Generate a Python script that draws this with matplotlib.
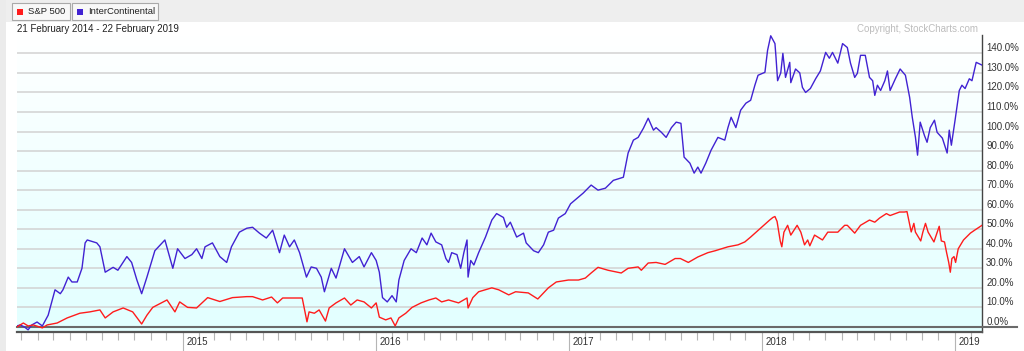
import matplotlib
matplotlib.use('Agg')
import matplotlib.pyplot as plt
import matplotlib.dates as mdates
import matplotlib.transforms as mtransforms
from matplotlib.patches import Rectangle
import numpy as np
import pandas as pd

plt.rcParams['font.family'] = ['Liberation Sans', 'DejaVu Sans']

series_names = ['S&P 500', 'InterContinental']
series_colors = ['#ff1c1c', '#4122d2']
date_range_text = '21 February 2014 - 22 February 2019'
copyright_text = 'Copyright, StockCharts.com'
y_ticks = list(range(0, 150, 10))
year_labels = [2015, 2016, 2017, 2018, 2019]

sp_dates = [
    '2014-02-21', '2014-03-05', '2014-03-14', '2014-03-24', '2014-04-10', '2014-04-19', '2014-05-08',
    '2014-05-27', '2014-06-20', '2014-07-09', '2014-07-28', '2014-08-07', '2014-08-22', '2014-09-10',
    '2014-09-28', '2014-10-15', '2014-10-25', '2014-11-05', '2014-12-02', '2014-12-17', '2014-12-26',
    '2015-01-10', '2015-01-27', '2015-02-17', '2015-03-12', '2015-04-05', '2015-05-02', '2015-05-13',
    '2015-06-01', '2015-06-18', '2015-06-29', '2015-07-09', '2015-07-26', '2015-08-15', '2015-08-24',
    '2015-08-28', '2015-09-07', '2015-09-16', '2015-09-28', '2015-10-05', '2015-10-18', '2015-11-03',
    '2015-11-15', '2015-11-27', '2015-12-10', '2015-12-24', '2016-01-02', '2016-01-08', '2016-01-20',
    '2016-01-30', '2016-02-07', '2016-02-14', '2016-02-27', '2016-03-10', '2016-03-27', '2016-04-11',
    '2016-04-24', '2016-05-05', '2016-05-18', '2016-06-06', '2016-06-22', '2016-06-24', '2016-07-03',
    '2016-07-14', '2016-08-08', '2016-08-21', '2016-09-09', '2016-09-22', '2016-10-16', '2016-11-03',
    '2016-11-23', '2016-12-08', '2016-12-31', '2017-01-19', '2017-02-01', '2017-02-12', '2017-02-25',
    '2017-03-16', '2017-04-10', '2017-04-23', '2017-05-12', '2017-05-18', '2017-05-31', '2017-06-15',
    '2017-07-02', '2017-07-21', '2017-07-31', '2017-08-15', '2017-09-02', '2017-09-21', '2017-10-05',
    '2017-10-29', '2017-11-17', '2017-11-30', '2017-12-11', '2017-12-30', '2018-01-16', '2018-01-22',
    '2018-01-26', '2018-01-30', '2018-02-05', '2018-02-08', '2018-02-12', '2018-02-19', '2018-02-25',
    '2018-03-09', '2018-03-16', '2018-03-23', '2018-03-29', '2018-04-02', '2018-04-11', '2018-04-26',
    '2018-05-06', '2018-05-25', '2018-06-07', '2018-06-12', '2018-06-26', '2018-07-07', '2018-07-24',
    '2018-08-03', '2018-08-12', '2018-08-25', '2018-09-01', '2018-09-19', '2018-09-28', '2018-10-03',
    '2018-10-11', '2018-10-16', '2018-10-19', '2018-10-29', '2018-11-02', '2018-11-07', '2018-11-12',
    '2018-11-23', '2018-12-03', '2018-12-07', '2018-12-13', '2018-12-17', '2018-12-21', '2018-12-24',
    '2018-12-27', '2018-12-31', '2019-01-03', '2019-01-08', '2019-01-18', '2019-01-31', '2019-02-08',
    '2019-02-22',
]
sp_values = [
    0.0, 2.0, 0.5, 1.0, -0.5, 1.0, 2.0,
    4.6, 7.0, 7.7, 8.7, 4.6, 7.7, 9.7,
    7.7, 1.5, 6.0, 10.0, 13.8, 7.7, 12.8,
    10.0, 9.7, 15.0, 13.0, 15.0, 15.5, 15.5,
    13.8, 15.3, 12.3, 14.8, 14.8, 14.8, 2.6,
    7.7, 7.0, 8.7, 3.0, 9.7, 12.3, 14.8,
    11.2, 13.8, 12.8, 9.7, 12.3, 5.0, 3.6,
    4.6, 0.5, 4.6, 7.0, 10.0, 12.3, 13.8,
    14.8, 12.8, 13.8, 12.3, 14.8, 9.7, 15.0,
    18.0, 20.0, 19.0, 16.4, 18.0, 17.4, 14.3,
    20.0, 23.0, 24.0, 24.0, 25.0, 27.6, 30.5,
    29.0, 27.6, 30.0, 30.7, 29.0, 32.7, 33.0,
    32.0, 35.0, 35.0, 33.0, 35.8, 38.0, 39.0,
    41.0, 42.0, 43.5, 46.0, 50.6, 54.7, 56.0,
    56.5, 54.0, 44.0, 41.0, 48.5, 52.0, 47.0,
    52.0, 48.5, 42.0, 44.5, 41.5, 47.0, 44.5,
    48.5, 48.5, 52.0, 52.0, 48.0, 52.0, 54.7,
    53.6, 55.7, 58.0, 57.0, 58.8, 58.8, 59.0,
    48.6, 53.0, 48.5, 44.0, 48.5, 53.0, 48.5,
    43.5, 51.5, 44.0, 43.5, 38.0, 33.0, 28.0,
    35.0, 36.0, 33.0, 40.0, 44.5, 48.0, 49.5,
    52.0,
]

ic_dates = [
    '2014-02-21', '2014-02-27', '2014-03-07', '2014-03-14', '2014-03-21', '2014-03-31', '2014-04-10',
    '2014-04-21', '2014-04-30', '2014-05-04', '2014-05-14', '2014-05-19', '2014-05-29', '2014-06-05',
    '2014-06-15', '2014-06-24', '2014-06-30', '2014-07-04', '2014-07-22', '2014-07-28', '2014-08-07',
    '2014-08-22', '2014-08-31', '2014-09-17', '2014-09-26', '2014-10-06', '2014-10-15', '2014-10-25',
    '2014-11-09', '2014-11-28', '2014-12-13', '2014-12-22', '2015-01-05', '2015-01-18', '2015-01-27',
    '2015-02-06', '2015-02-12', '2015-02-26', '2015-03-12', '2015-03-25', '2015-04-03', '2015-04-18',
    '2015-05-02', '2015-05-13', '2015-05-26', '2015-06-08', '2015-06-20', '2015-07-03', '2015-07-12',
    '2015-07-22', '2015-07-31', '2015-08-10', '2015-08-23', '2015-09-01', '2015-09-11', '2015-09-20',
    '2015-09-26', '2015-10-09', '2015-10-18', '2015-11-03', '2015-11-18', '2015-12-01', '2015-12-10',
    '2015-12-24', '2016-01-02', '2016-01-08', '2016-01-14', '2016-01-23', '2016-02-01', '2016-02-09',
    '2016-02-14', '2016-02-24', '2016-03-08', '2016-03-18', '2016-03-29', '2016-04-07', '2016-04-15',
    '2016-04-24', '2016-05-05', '2016-05-13', '2016-05-18', '2016-05-24', '2016-06-03', '2016-06-10',
    '2016-06-16', '2016-06-22', '2016-06-24', '2016-06-29', '2016-07-05', '2016-07-14', '2016-07-27',
    '2016-08-08', '2016-08-17', '2016-08-30', '2016-09-05', '2016-09-12', '2016-09-24', '2016-10-07',
    '2016-10-12', '2016-10-26', '2016-11-04', '2016-11-14', '2016-11-23', '2016-12-03', '2016-12-12',
    '2016-12-25', '2017-01-04', '2017-01-19', '2017-01-28', '2017-02-12', '2017-02-25', '2017-03-11',
    '2017-03-26', '2017-04-14', '2017-04-23', '2017-05-03', '2017-05-12', '2017-05-22', '2017-05-31',
    '2017-06-10', '2017-06-15', '2017-06-25', '2017-07-04', '2017-07-14', '2017-07-23', '2017-08-01',
    '2017-08-07', '2017-08-18', '2017-08-26', '2017-09-02', '2017-09-08', '2017-09-17', '2017-09-27',
    '2017-10-10', '2017-10-23', '2017-10-29', '2017-11-04', '2017-11-13', '2017-11-22', '2017-12-02',
    '2017-12-11', '2017-12-19', '2017-12-25', '2018-01-07', '2018-01-12', '2018-01-18', '2018-01-26',
    '2018-01-28', '2018-01-31', '2018-02-06', '2018-02-10', '2018-02-15', '2018-02-23', '2018-02-25',
    '2018-03-06', '2018-03-14', '2018-03-19', '2018-03-25', '2018-04-03', '2018-04-13', '2018-04-22',
    '2018-05-02', '2018-05-09', '2018-05-15', '2018-05-25', '2018-06-03', '2018-06-12', '2018-06-18',
    '2018-06-26', '2018-07-01', '2018-07-07', '2018-07-16', '2018-07-24', '2018-07-30', '2018-08-03',
    '2018-08-08', '2018-08-14', '2018-08-22', '2018-08-27', '2018-09-01', '2018-09-11', '2018-09-20',
    '2018-09-30', '2018-10-08', '2018-10-13', '2018-10-19', '2018-10-23', '2018-10-28', '2018-11-05',
    '2018-11-10', '2018-11-16', '2018-11-24', '2018-11-29', '2018-12-09', '2018-12-18', '2018-12-22',
    '2018-12-26', '2019-01-02', '2019-01-10', '2019-01-15', '2019-01-21', '2019-01-29', '2019-02-03',
    '2019-02-11', '2019-02-22',
]
ic_values = [
    0.5, 1.0, 0.0, -1.5, 1.0, 2.5, 0.5,
    6.0, 15.0, 19.0, 17.0, 19.0, 25.5, 23.0,
    23.0, 30.0, 43.0, 44.5, 43.0, 41.0, 28.0,
    30.5, 29.0, 36.0, 33.0, 24.0, 17.0, 25.5,
    39.0, 44.5, 30.0, 40.0, 35.0, 37.0, 40.0,
    35.0, 41.0, 43.0, 36.0, 33.0, 41.0, 48.5,
    50.5, 51.0, 48.0, 45.5, 49.5, 38.0, 47.0,
    41.0, 44.5, 38.0, 25.5, 30.7, 30.0, 25.5,
    18.0, 30.0, 25.0, 40.0, 33.0, 36.0, 30.7,
    38.0, 34.0, 28.0, 15.0, 12.8, 16.0, 12.8,
    24.0, 34.0, 40.0, 38.0, 45.5, 42.0, 48.0,
    43.5, 42.0, 35.0, 33.0, 38.0, 37.0, 30.0,
    38.0, 44.5, 25.5, 34.0, 31.7, 38.0, 46.0,
    54.7, 58.0, 56.0, 51.0, 53.6, 46.0, 48.0,
    43.0, 39.0, 38.0, 42.0, 48.5, 49.5, 55.7,
    58.0, 63.0, 66.4, 68.5, 72.6, 70.0, 71.0,
    75.0, 76.6, 89.0, 95.6, 97.0, 101.7, 106.8,
    100.7, 102.0, 99.6, 97.0, 102.0, 104.8, 104.2,
    86.9, 83.8, 78.7, 81.8, 78.7, 83.8, 90.4,
    97.0, 95.6, 102.0, 107.3, 102.0, 110.9, 114.5,
    116.0, 123.7, 128.8, 130.3, 141.5, 149.0, 145.0,
    138.0, 126.0, 130.0, 140.0, 127.7, 135.4, 125.0,
    132.0, 130.0, 122.6, 120.0, 122.0, 127.0, 131.0,
    140.5, 137.5, 140.5, 135.0, 145.0, 143.0, 135.0,
    127.7, 129.8, 139.0, 139.0, 127.7, 126.0, 118.5,
    123.7, 121.0, 126.0, 131.0, 121.0, 127.0, 132.0,
    128.8, 117.5, 107.3, 97.0, 87.9, 104.8, 98.0,
    94.5, 102.0, 105.8, 99.6, 96.6, 89.0, 100.7,
    93.0, 105.8, 121.0, 123.7, 122.0, 127.0, 126.0,
    135.4, 134.0,
]

W, H = 1024, 351
fig = plt.figure(figsize=(W / 100, H / 100), dpi=100)
fig.patch.set_facecolor('white')

# plot-area rectangle in pixels
px_left, px_right, px_top, px_bottom = 17, 982, 35, 332
rect = [px_left / W, (H - px_bottom) / H, (px_right - px_left) / W, (px_bottom - px_top) / H]

# gradient background
bg = fig.add_axes(rect, zorder=0)
grad = np.linspace(0, 1, 256)[:, None]
top_c = np.array([1.0, 1.0, 1.0])
bot_c = np.array([0.886, 1.0, 1.0])
img = top_c[None, None, :] * (1 - grad[:, :, None]) + bot_c[None, None, :] * grad[:, :, None]
bg.imshow(img, aspect='auto', extent=[0, 1, 0, 1])
bg.axis('off')

ax = fig.add_axes(rect, zorder=1)
ax.patch.set_alpha(0)

sp_x = pd.to_datetime(sp_dates)
ic_x = pd.to_datetime(ic_dates)

for v in y_ticks[1:]:
    ax.axhline(v, color='#d2d2d2', lw=1.1, zorder=1)
ax.axhline(0, xmin=0, xmax=(1017 - px_left) / (px_right - px_left), color='#6a6a6a', lw=1.5,
           clip_on=False, zorder=3)

ax.plot(ic_x, ic_values, color=series_colors[1], lw=1.0, zorder=4)
ax.plot(sp_x, sp_values, color=series_colors[0], lw=1.0, zorder=5)

x0 = pd.Timestamp('2014-02-21')
x1 = pd.Timestamp('2019-02-22')
ax.set_xlim(x0, x1)
ax.set_ylim(-2.6, 149.4)

# spines
for s in ['top', 'left']:
    ax.spines[s].set_visible(False)
ax.spines['right'].set_color('#444444')
ax.spines['right'].set_linewidth(1.0)
ax.spines['bottom'].set_color('#555555')
ax.spines['bottom'].set_linewidth(1.6)

# y axis on the right
ax.yaxis.tick_right()
ax.set_yticks(y_ticks)
ax.set_yticklabels([f'{v:.1f}%' for v in y_ticks])
ax.tick_params(axis='y', length=0, pad=3, labelsize=7, labelcolor='#333333')
for lbl in ax.get_yticklabels():
    lbl.set_va('bottom')

# x axis ticks
ax.xaxis.set_major_locator(mdates.YearLocator())
ax.xaxis.set_minor_locator(mdates.MonthLocator())
ax.tick_params(axis='x', which='major', length=14, width=0.8, color='#b5b5b5', labelbottom=False)
ax.tick_params(axis='x', which='minor', length=6, width=0.8, color='#b5b5b5')
lab_tr = mtransforms.offset_copy(ax.get_xaxis_transform(), fig=fig, x=4, y=-10, units='dots')
for yr in year_labels:
    ax.text(mdates.date2num(pd.Timestamp(f'{yr}-01-01')), 0, str(yr), transform=lab_tr,
            ha='left', va='center', fontsize=7, color='#333333', clip_on=False)

# header overlay
hdr = fig.add_axes([0, 0, 1, 1], zorder=2)
hdr.set_xlim(0, W)
hdr.set_ylim(H, 0)
hdr.axis('off')
hdr.add_patch(Rectangle((0, 0), W, 22, facecolor='#eeeeee', edgecolor='none'))
hdr.add_patch(Rectangle((0, 0), 6, H, facecolor='#ebebeb', edgecolor='none'))
buttons = [(12, 58), (72, 86)]
for (bx, bw), name, col in zip(buttons, series_names, series_colors):
    hdr.add_patch(Rectangle((bx, 3), bw, 17, facecolor='#f8f8f8', edgecolor='#a9a9a9', lw=0.8))
    hdr.add_patch(Rectangle((bx + 5, 8.5), 6, 6, facecolor=col, edgecolor='none'))
    hdr.text(bx + 16, 11.5, name, ha='left', va='center', fontsize=6.8, color='#222222')
hdr.text(17, 29, date_range_text, ha='left', va='center', fontsize=7, color='#222222')
hdr.text(978, 29, copyright_text, ha='right', va='center', fontsize=7, color='#bdbdbd')

fig.savefig('out.png', dpi=100)
